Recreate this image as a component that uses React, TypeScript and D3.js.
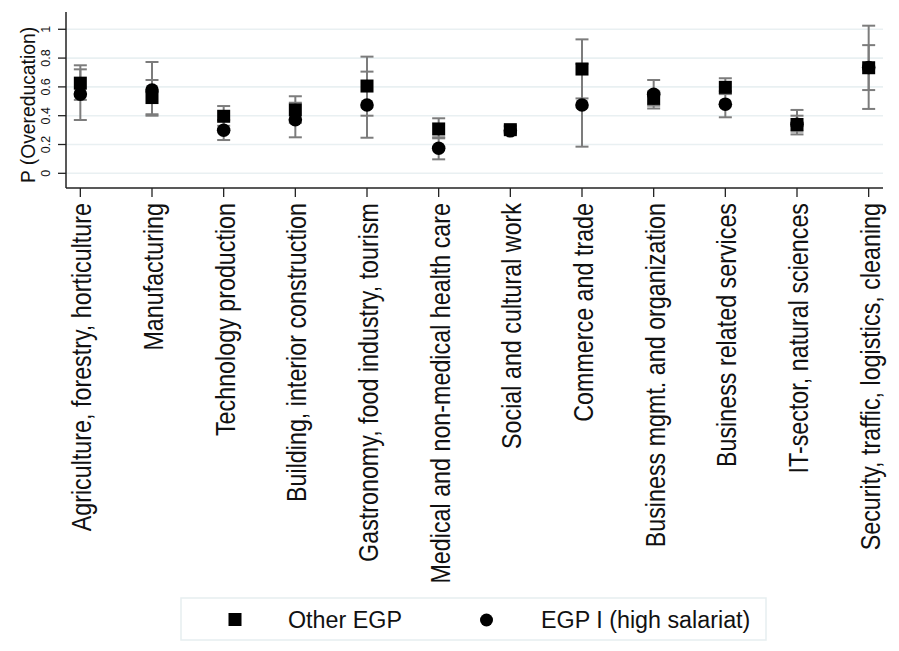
import React from "react";
import * as d3 from "d3";

const categories = [
  "Agriculture, forestry, horticulture",
  "Manufacturing",
  "Technology production",
  "Building, interior construction",
  "Gastronomy, food industry, tourism",
  "Medical and non-medical health care",
  "Social and cultural work",
  "Commerce and trade",
  "Business mgmt. and organization",
  "Business related services",
  "IT-sector, natural sciences",
  "Security, traffic, logistics, cleaning",
];

// Other EGP (squares)
const otherEst = [0.626, 0.526, 0.396, 0.44, 0.606, 0.308, 0.303, 0.724, 0.52, 0.597, 0.339, 0.733];
const otherLo = [0.51, 0.41, 0.33, 0.35, 0.40, 0.243, 0.28, 0.52, 0.47, 0.55, 0.29, 0.578];
const otherHi = [0.75, 0.648, 0.467, 0.535, 0.81, 0.382, 0.33, 0.93, 0.57, 0.66, 0.40, 0.89];

// EGP I (circles)
const egpEst = [0.55, 0.578, 0.299, 0.372, 0.474, 0.174, 0.295, 0.474, 0.549, 0.48, 0.34, 0.735];
const egpLo = [0.37, 0.40, 0.231, 0.25, 0.247, 0.097, 0.275, 0.185, 0.45, 0.389, 0.27, 0.447];
const egpHi = [0.722, 0.773, 0.37, 0.49, 0.706, 0.25, 0.325, 0.76, 0.648, 0.57, 0.44, 1.025];

const yTicks = [0, 0.2, 0.4, 0.6, 0.8, 1];
const yTickLabels = ["0", "0.2", "0.4", "0.6", "0.8", "1"];
const legendLabels = ["Other EGP", "EGP I (high salariat)"];

export default function App() {
  const W = 899, H = 651;
  const left = 66, right = 883, top = 12, bottom = 188;
  const x = d3.scaleLinear().domain([-0.2, categories.length - 1 + 0.2]).range([left, right]);
  const y = d3.scaleLinear().domain([-0.102, 1.12]).range([bottom, top]);
  const font = "'Liberation Sans', Arial, sans-serif";
  const capW = 13;
  const sq = 13;
  const r = 6.8;
  const errColor = "#7c7c7c";
  const labelSize = 23.3;

  const errBars = (lo: number[], hi: number[], key: string) =>
    lo.map((l, i) => (
      <g key={key + i} stroke={errColor} strokeWidth={2}>
        <line x1={x(i)} x2={x(i)} y1={y(l)} y2={y(hi[i])} />
        <line x1={x(i) - capW / 2} x2={x(i) + capW / 2} y1={y(l)} y2={y(l)} />
        <line x1={x(i) - capW / 2} x2={x(i) + capW / 2} y1={y(hi[i])} y2={y(hi[i])} />
      </g>
    ));

  return (
    <svg width={W} height={H} style={{ position: "absolute", left: 0, top: 0, display: "block", background: "#fff" }} fontFamily={font}>
      {/* gridlines */}
      {yTicks.map((t) => (
        <line key={"g" + t} x1={left} x2={right} y1={y(t)} y2={y(t)} stroke="#e9f0f2" strokeWidth={1.6} />
      ))}
      {/* y axis */}
      <line x1={left} x2={left} y1={top} y2={bottom} stroke="#222" strokeWidth={1.5} />
      {yTicks.map((t, i) => (
        <g key={"yt" + t}>
          <line x1={left - 8} x2={left} y1={y(t)} y2={y(t)} stroke="#222" strokeWidth={1.3} />
          <text transform={`translate(50,${y(t)}) rotate(-90)`} textAnchor="middle" fontSize={12.5} fill="#111">
            {yTickLabels[i]}
          </text>
        </g>
      ))}
      <text transform={`translate(35,${(top + bottom) / 2 + 5}) rotate(-90) scale(1,1.08)`} textAnchor="middle" fontSize={19.3} fill="#111">
        P (Overeducation)
      </text>
      {/* x axis */}
      <line x1={left} x2={right} y1={bottom} y2={bottom} stroke="#222" strokeWidth={1.5} />
      {categories.map((c, i) => (
        <g key={"xt" + i}>
          <line x1={x(i)} x2={x(i)} y1={bottom} y2={bottom + 9} stroke="#222" strokeWidth={1.3} />
          <text transform={`translate(${x(i) + 11},${bottom + 15}) rotate(-90) scale(1,1.15)`} textAnchor="end" fontSize={labelSize} fill="#111">
            {c}
          </text>
        </g>
      ))}
      {/* error bars */}
      {errBars(otherLo, otherHi, "eo")}
      {errBars(egpLo, egpHi, "ee")}
      {/* markers */}
      {otherEst.map((v, i) => (
        <rect key={"s" + i} x={x(i) - sq / 2} y={y(v) - sq / 2} width={sq} height={sq} fill="#000" />
      ))}
      {egpEst.map((v, i) => (
        <circle key={"c" + i} cx={x(i)} cy={y(v)} r={r} fill="#000" />
      ))}
      {/* legend */}
      <rect x={181} y={598} width={585} height={42} fill="#fff" stroke="#e6eef0" strokeWidth={1.5} />
      <rect x={235 - sq / 2} y={619.5 - sq / 2} width={sq} height={sq} fill="#000" />
      <text x={288} y={628} fontSize={labelSize} fill="#111">{legendLabels[0]}</text>
      <circle cx={486.5} cy={620} r={6.5} fill="#000" />
      <text x={541} y={628} fontSize={labelSize} fill="#111">{legendLabels[1]}</text>
    </svg>
  );
}
